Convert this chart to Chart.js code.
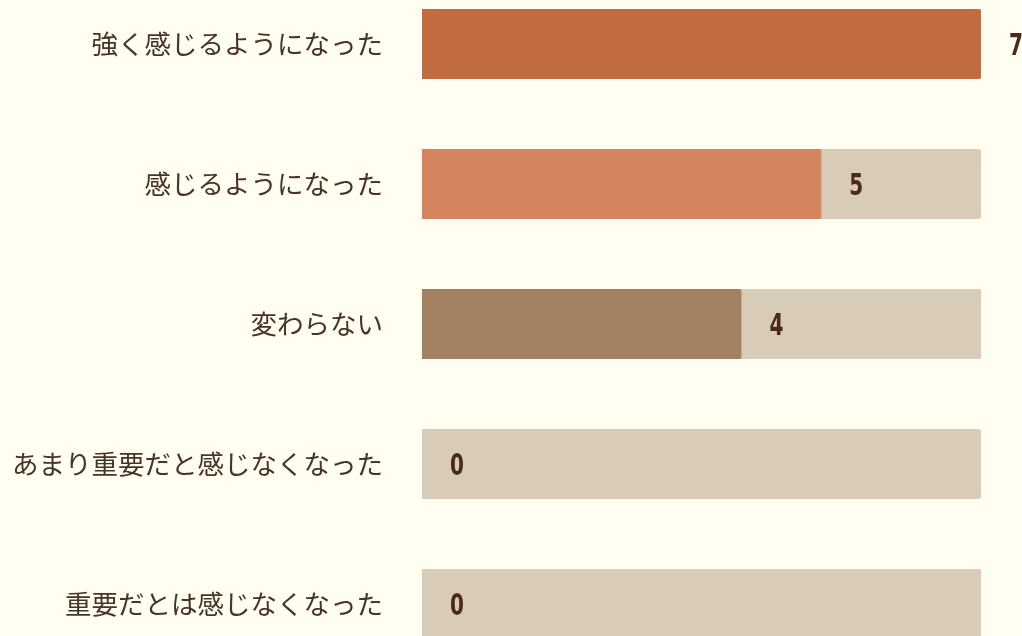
<!DOCTYPE html>
<html>
<head>
<meta charset="utf-8">
<script src="https://cdn.jsdelivr.net/npm/chart.js@4/dist/chart.umd.min.js"></script>
<style>
    html, body { margin: 0; padding: 0; background: #fffef0; overflow: hidden; }
    #wrap { position: absolute; left: 0; top: -26px; width: 1022px; height: 700px; }
</style>
</head>
<body>
<div id="wrap"><canvas id="chart"></canvas></div>
<script>
const categories = ['強く感じるようになった', '感じるようになった', '変わらない', 'あまり重要だと感じなくなった', '重要だとは感じなくなった'];
const values = [7, 5, 4, 0, 0];
const trackValues = [7, 7, 7, 7, 7];
const barColors = ['#c06b40', '#d4845e', '#a18161', '#d4845e', '#d4845e'];

// value labels to the right of each bar end (condensed bold digits)
const valueLabels = {
    id: 'valueLabels',
    afterDatasetsDraw(chart) {
        const ctx = chart.ctx;
        const meta = chart.getDatasetMeta(1);
        meta.data.forEach((bar, i) => {
            ctx.save();
            ctx.translate(bar.x + 28, bar.y + 3);
            ctx.scale(0.72, 1);
            ctx.font = 'bold 31px "DejaVu Sans Condensed", "DejaVu Sans", sans-serif';
            ctx.fillStyle = '#4a2a18';
            ctx.textAlign = 'left';
            ctx.textBaseline = 'middle';
            ctx.fillText(String(values[i]), 0, 0);
            ctx.restore();
        });
    }
};

new Chart(document.getElementById('chart'), {
    type: 'bar',
    data: {
        labels: categories,
        datasets: [
            {
                data: trackValues,
                backgroundColor: '#d8cbb8',
                grouped: false,
                order: 2,
                barPercentage: 0.5,
                categoryPercentage: 1,
                borderRadius: 2
            },
            {
                data: values,
                backgroundColor: barColors,
                grouped: false,
                order: 1,
                barPercentage: 0.5,
                categoryPercentage: 1,
                borderRadius: 2
            }
        ]
    },
    options: {
        indexAxis: 'y',
        responsive: true,
        maintainAspectRatio: false,
        animation: false,
        layout: { padding: { left: 0, right: 41, top: 0, bottom: 0 } },
        plugins: {
            legend: { display: false },
            tooltip: { enabled: false }
        },
        scales: {
            x: {
                min: 0,
                max: 7,
                display: false
            },
            y: {
                grid: { display: false, drawTicks: false },
                border: { display: false },
                afterFit: s => {
                    s.width = 422;
                    s.paddingTop = 0;
                    s.paddingBottom = 0;
                },
                ticks: {
                    padding: 39,
                    color: '#4a3428',
                    font: { size: 26.5, family: '"Noto Sans CJK JP", sans-serif' }
                }
            }
        }
    },
    plugins: [valueLabels]
});
</script>
</body>
</html>
